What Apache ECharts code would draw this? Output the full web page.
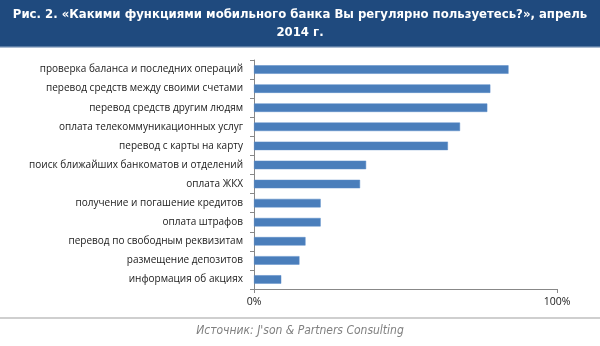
<!DOCTYPE html>
<html>
<head>
<meta charset="utf-8">
<script src="https://cdn.jsdelivr.net/npm/echarts@6/dist/echarts.min.js"></script>
<style>
html,body{margin:0;padding:0;background:#fff;}
#chart{width:600px;height:346px;}
</style>
</head>
<body>
<div id="chart"></div>
<script>
var titleLines = ['Рис. 2. «Какими функциями мобильного банка Вы регулярно пользуетесь?», апрель', '2014 г.'];
var sourceText = 'Источник: J\'son & Partners Consulting';
var categories = [
  'проверка баланса и последних операций',
  'перевод средств между своими счетами',
  'перевод средств другим людям',
  'оплата телекоммуникационных услуг',
  'перевод с карты на карту',
  'поиск ближайших банкоматов и отделений',
  'оплата ЖКХ',
  'получение и погашение кредитов',
  'оплата штрафов',
  'перевод по свободным реквизитам',
  'размещение депозитов',
  'информация об акциях'
];
var values = [84, 78, 77, 68, 64, 37, 35, 22, 22, 17, 15, 9];
var xTicks = [0, 100];

var chart = echarts.init(document.getElementById('chart'));
chart.setOption({
  animation: false,
  grid: { left: 254, right: 43, top: 60, bottom: 57, containLabel: false },
  xAxis: {
    type: 'value', min: xTicks[0], max: xTicks[1], interval: 100,
    axisLine: { show: true, lineStyle: { color: '#888', width: 1 } },
    axisTick: { show: true, length: 4, lineStyle: { color: '#888' } },
    splitLine: { show: false },
    axisLabel: { formatter: '{value}%', color: '#1a1a1a', fontFamily: 'Open Sans', fontSize: 10.5, margin: 8 }
  },
  yAxis: {
    type: 'category', data: categories, inverse: true,
    axisLine: { show: true, lineStyle: { color: '#888', width: 1 } },
    axisTick: { show: true, length: 4, lineStyle: { color: '#888' } },
    axisLabel: { color: '#1a1a1a', fontFamily: 'Open Sans', fontSize: 10, margin: 11 }
  },
  series: [{
    type: 'bar', data: values, barWidth: 8.5,
    itemStyle: { color: '#4a7ebb', borderColor: '#5b8cc8', borderWidth: 0.5 }
  }],
  graphic: [
    { type: 'rect', shape: { x: 0, y: 0, width: 600, height: 46 }, style: { fill: '#1f4a7e' } },
    { type: 'rect', shape: { x: 0, y: 46, width: 600, height: 1.5 }, style: { fill: '#5a7ba3' } },
    { type: 'text', x: 300, y: 15, style: { text: titleLines[0], fill: '#fff', font: 'bold 13px "DejaVu Sans Condensed"', align: 'center', verticalAlign: 'middle' } },
    { type: 'text', x: 300, y: 33, style: { text: titleLines[1], fill: '#fff', font: 'bold 13px "DejaVu Sans Condensed"', align: 'center', verticalAlign: 'middle' } },
    { type: 'rect', shape: { x: 0, y: 317, width: 600, height: 2 }, style: { fill: '#cfcfcf' } },
    { type: 'text', x: 300, y: 331, style: { text: sourceText, fill: '#808080', font: 'italic 12px "DejaVu Sans Condensed"', align: 'center', verticalAlign: 'middle' } }
  ]
});
</script>
</body>
</html>
